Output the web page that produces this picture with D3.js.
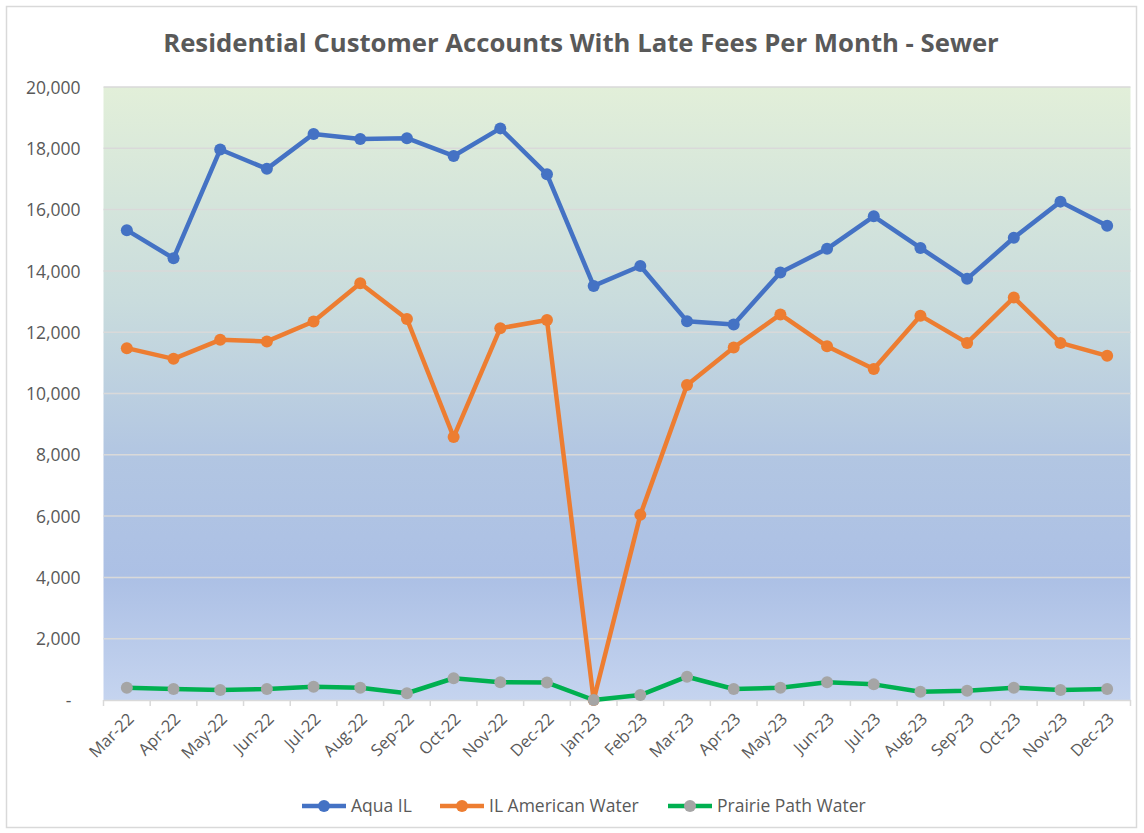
<!DOCTYPE html>
<html><head><meta charset="utf-8">
<script src="https://cdn.jsdelivr.net/npm/d3@7"></script>
<style>body{margin:0;background:#fff;} text{font-family:"Open Sans","Liberation Sans",sans-serif;}</style>
</head><body><svg id="c" width="1144" height="833"></svg>
<script>
const months = ["Mar-22","Apr-22","May-22","Jun-22","Jul-22","Aug-22","Sep-22","Oct-22","Nov-22","Dec-22","Jan-23","Feb-23","Mar-23","Apr-23","May-23","Jun-23","Jul-23","Aug-23","Sep-23","Oct-23","Nov-23","Dec-23"];
const aquaIL = [15330,14410,17960,17330,18470,18300,18330,17750,18650,17150,13510,14160,12360,12250,13950,14720,15780,14750,13740,15080,16260,15470];
const ilAmerican = [11480,11130,11750,11700,12350,13600,12430,8580,12130,12400,0,6040,10280,11500,12580,11540,10800,12540,11650,13130,11650,11230];
const prairiePath = [400,360,330,360,430,400,220,710,580,570,0,160,760,360,400,580,510,270,300,400,330,360];
const yTicks = [0,2000,4000,6000,8000,10000,12000,14000,16000,18000,20000];
const seriesNames = ["Aqua IL","IL American Water","Prairie Path Water"];

const svg = d3.select("#c");
const W = 1144, H = 833;
const m = {left:103.5, right:1130.5, top:87, bottom:700};

svg.append("rect").attr("x",6.5).attr("y",6.5).attr("width",W-14).attr("height",H-12)
  .attr("fill","#fff").attr("stroke","#d9d9d9").attr("stroke-width",1.5);

const defs = svg.append("defs");
const g = defs.append("linearGradient").attr("id","bg").attr("x1",0).attr("y1",0).attr("x2",0).attr("y2",1);
[[0,"#e2efd9"],[0.35,"#c9dcdd"],[0.6,"#b2c6e2"],[0.8,"#acc0e5"],[1,"#c5d4ef"]].forEach(s=>
  g.append("stop").attr("offset",s[0]).attr("stop-color",s[1]));

const x = d3.scaleBand().domain(months).range([m.left,m.right]);
const y = d3.scaleLinear().domain([0,20000]).range([m.bottom,m.top]);

svg.append("rect").attr("x",m.left).attr("y",m.top).attr("width",m.right-m.left).attr("height",m.bottom-m.top).attr("fill","url(#bg)");

svg.append("g").selectAll("line").data(yTicks.filter(d=>d>0)).join("line")
  .attr("x1",m.left).attr("x2",m.right).attr("y1",d=>y(d)).attr("y2",d=>y(d))
  .attr("stroke","#d9d9d9").attr("stroke-width",1.5);

const yAxis = d3.axisLeft(y).tickValues(yTicks).tickSize(0).tickPadding(0)
  .tickFormat(d=> d===0 ? "-" : d3.format(",")(d));
const ya = svg.append("g").attr("transform",`translate(${m.left-23},0)`).call(yAxis);
ya.select(".domain").remove();
ya.selectAll("text").attr("fill","#595959").style("font-size","17.5px").attr("dy","0.35em");
ya.selectAll(".tick").filter(d=>d===0).select("text").attr("transform","translate(-9,0)");

const xAxis = d3.axisBottom(x).tickSize(0).tickFormat(d=>d);
const xa = svg.append("g").attr("transform",`translate(0,${m.bottom})`).call(xAxis);
xa.select(".domain").attr("stroke","#d9d9d9").attr("stroke-width",1.5);
xa.selectAll("text").attr("fill","#595959").style("font-size","16.5px")
  .attr("text-anchor","end").attr("dy",0).attr("y",0)
  .attr("transform","translate(8,20) rotate(-45)");
const bounds = months.map(mo=>x(mo)).concat([m.right]);
svg.append("g").selectAll("line").data(bounds).join("line")
  .attr("x1",d=>d).attr("x2",d=>d).attr("y1",m.bottom).attr("y2",m.bottom+6)
  .attr("stroke","#d9d9d9").attr("stroke-width",1.5);

const cx = d=>x(d)+x.bandwidth()/2;
const series = [
  {name:seriesNames[0], vals:aquaIL, line:"#4472c4", mark:"#4472c4"},
  {name:seriesNames[1], vals:ilAmerican, line:"#ed7d31", mark:"#ed7d31"},
  {name:seriesNames[2], vals:prairiePath, line:"#00b050", mark:"#a5a5a5"}
];
const lineGen = d3.line().x((d,i)=>cx(months[i])).y(d=>y(d));
series.forEach(s=>{
  svg.append("path").datum(s.vals).attr("d",lineGen).attr("fill","none")
    .attr("stroke",s.line).attr("stroke-width",4.5).attr("stroke-linejoin","round");
  svg.append("g").selectAll("circle").data(s.vals).join("circle")
    .attr("cx",(d,i)=>cx(months[i])).attr("cy",d=>y(d)).attr("r",6).attr("fill",s.mark);
});

const title = svg.append("text").attr("x",581).attr("y",52).attr("text-anchor","middle")
  .attr("fill","#595959").style("font-size","24px").style("font-weight","bold")
  .text("Residential Customer Accounts With Late Fees Per Month - Sewer");
const tw = title.node().getComputedTextLength();
title.style("font-size",(24*836/tw)+"px");

const legX = [302,440,668];
series.forEach((s,i)=>{
  const lg = svg.append("g").attr("transform",`translate(${legX[i]},806)`);
  lg.append("line").attr("x1",0).attr("x2",44).attr("stroke",s.line).attr("stroke-width",4.5);
  lg.append("circle").attr("cx",22).attr("r",6).attr("fill",s.mark);
  lg.append("text").attr("x",49).attr("dy","0.35em").attr("fill","#595959").style("font-size","17.5px").text(s.name);
});
</script></body></html>
